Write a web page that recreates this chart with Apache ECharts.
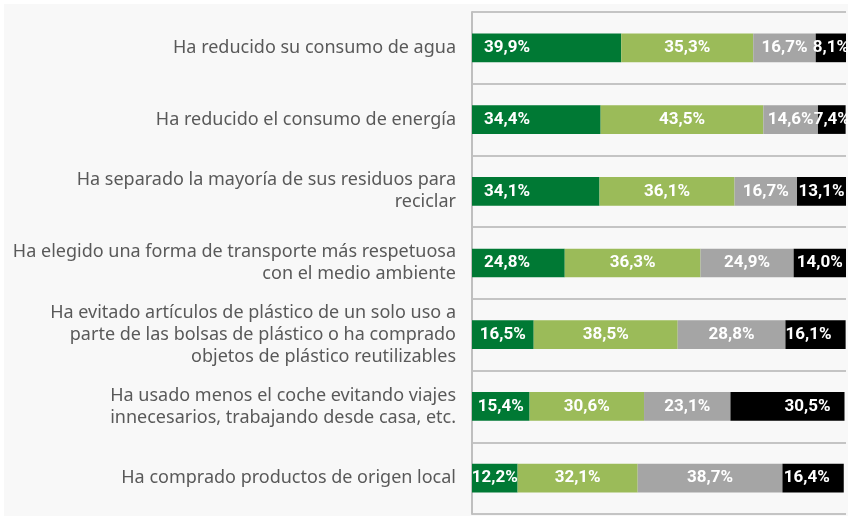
<!DOCTYPE html>
<html>
<head>
<meta charset="utf-8">
<script src="https://cdn.jsdelivr.net/npm/echarts@6/dist/echarts.min.js"></script>
<style>
html,body{margin:0;padding:0;background:#ffffff;}
#chart{position:absolute;left:4px;top:4px;width:844px;height:512px;background:#f8f8f8;}
</style>
</head>
<body>
<div id="chart"></div>
<script>
const categories = [
  'Ha reducido su consumo de agua',
  'Ha reducido el consumo de energía',
  'Ha separado la mayoría de sus residuos para\nreciclar',
  'Ha elegido una forma de transporte más respetuosa\ncon el medio ambiente',
  'Ha evitado artículos de plástico de un solo uso a\nparte de las bolsas de plástico o ha comprado\nobjetos de plástico reutilizables',
  'Ha usado menos el coche evitando viajes\ninnecesarios, trabajando desde casa, etc.',
  'Ha comprado productos de origen local'
];
const serieA = [39.9, 34.4, 34.1, 24.8, 16.5, 15.4, 12.2];
const serieB = [35.3, 43.5, 36.1, 36.3, 38.5, 30.6, 32.1];
const serieC = [16.7, 14.6, 16.7, 24.9, 28.8, 23.1, 38.7];
const serieD = [8.1, 7.4, 13.1, 14.0, 16.1, 30.5, 16.4];
const colors = ['#007934', '#9bbb59', '#a5a5a5', '#000000'];

function fmt(v) { return v.toFixed(1).replace('.', ',') + '%'; }

function makeData(arr, mode) {
  return arr.map(v => {
    let label = {};
    if (mode === 'left' && v >= 20) label = {position: 'insideLeft', distance: 12};
    else if (mode === 'right' && v >= 15) label = {position: 'insideRight', distance: 14};
    return {value: v, label: label};
  });
}

const chart = echarts.init(document.getElementById('chart'));
const labelBase = {
  show: true, position: 'inside', color: '#ffffff', fontFamily: 'Roboto',
  fontWeight: 'bold', fontSize: 17, formatter: p => fmt(p.value)
};
const sets = [[serieA, 'left'], [serieB, 'c'], [serieC, 'c'], [serieD, 'right']];
chart.setOption({
  animation: false,
  grid: {left: 468, top: 8, right: 2, bottom: 2, containLabel: false},
  xAxis: {
    type: 'value', min: 0, max: 100, show: false
  },
  yAxis: {
    type: 'category', data: categories, inverse: true,
    axisLine: {show: true, lineStyle: {color: '#bfbfbf', width: 2}},
    axisTick: {show: false},
    splitLine: {show: true, lineStyle: {color: '#c4c4c4', width: 2}},
    axisLabel: {
      color: '#595959', fontFamily: 'Noto Sans', fontSize: 18, lineHeight: 22,
      margin: 16, align: 'right'
    }
  },
  series: sets.map((s, i) => ({
    type: 'bar', stack: 'total', barWidth: '40%',
    itemStyle: {color: colors[i]},
    label: labelBase,
    data: makeData(s[0], s[1])
  }))
});
</script>
</body>
</html>
